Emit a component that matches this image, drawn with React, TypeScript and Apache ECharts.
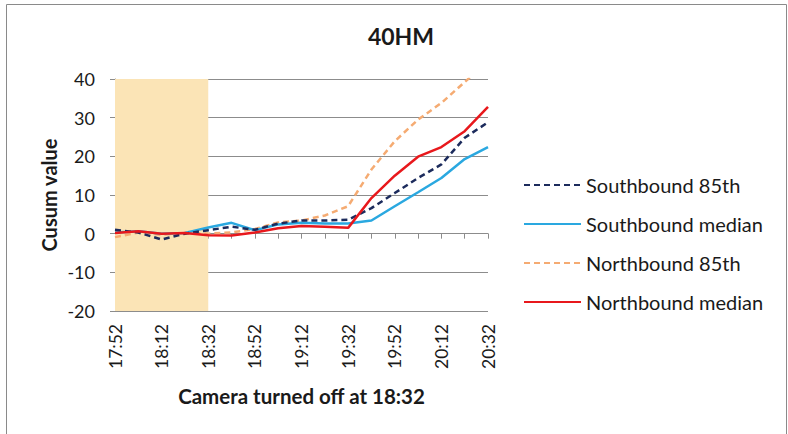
import React, { useEffect, useRef } from "react";
import * as echarts from "echarts";

const categories = [
  "17:52", "18:02", "18:12", "18:22", "18:32", "18:42", "18:52", "19:02", "19:12",
  "19:22", "19:32", "19:42", "19:52", "20:02", "20:12", "20:22", "20:32",
];
const southbound85 = [1.0, 0.3, -1.5, 0.0, 0.9, 1.8, 1.0, 2.6, 3.4, 3.4, 3.6, 6.6, 10.5, 14.4, 17.9, 24.8, 28.8];
const southboundMedian = [0.3, 0.6, 0.0, 0.2, 1.6, 2.8, 0.9, 2.4, 2.8, 2.6, 2.6, 3.4, 7.1, 10.7, 14.4, 19.3, 22.4];
const northbound85 = [-0.9, 0.3, -0.3, 0.2, 0.0, 0.3, 1.2, 2.9, 3.4, 4.7, 7.1, 16.6, 23.9, 29.5, 33.8, 39.2, 44.5];
const northboundMedian = [0.2, 0.6, 0.0, 0.2, -0.4, -0.5, 0.3, 1.4, 2.0, 1.8, 1.5, 9.2, 15.0, 19.9, 22.4, 26.5, 32.8];
const cameraOnStart = "17:52";
const cameraOnEnd = "18:32";

const FONT = "Lato";
const TXT = "#1a1a1a";

export default function App() {
  const ref = useRef<HTMLDivElement>(null);
  useEffect(() => {
    if (!ref.current) return;
    const chart = echarts.init(ref.current, null, { renderer: "svg" });
    const mk = (name: string, data: number[], color: string, dashed: boolean, extra: any = {}) => ({
      name,
      type: "line",
      data,
      symbol: "none",
      clip: true,
      lineStyle: { color, width: 2.5, type: dashed ? [6, 4] : "solid" },
      itemStyle: { color },
      ...extra,
    });
    chart.setOption({
      animation: false,
      backgroundColor: "#ffffff",
      textStyle: { fontFamily: FONT, color: TXT },
      title: {
        text: "40HM",
        left: 396,
        top: 19,
        textAlign: "center",
        textStyle: { fontFamily: FONT, fontSize: 23, fontWeight: "bold", color: TXT },
      },
      graphic: [
        {
          type: "rect",
          shape: { x: 6.5, y: 4.5, width: 780, height: 440 },
          style: { fill: "none", stroke: "#8a8a8a", lineWidth: 1 },
          silent: true,
        },
      ],
      legend: {
        orient: "vertical",
        left: 523,
        top: 175,
        itemWidth: 57,
        itemHeight: 14,
        itemGap: 19,
        padding: 0,
        itemStyle: { opacity: 0 },
        textStyle: { fontFamily: FONT, fontSize: 20, color: TXT },
        data: ["Southbound 85th", "Southbound median", "Northbound 85th", "Northbound median"],
      },
      grid: { left: 115, right: 300, top: 79, bottom: 123, containLabel: false },
      xAxis: {
        type: "category",
        data: categories,
        boundaryGap: false,
        name: "Camera turned off at 18:32",
        nameLocation: "middle",
        nameGap: 74,
        nameTextStyle: { fontFamily: FONT, fontSize: 20.5, fontWeight: "bold", color: TXT },
        axisLine: { lineStyle: { color: "#8c8c8c", width: 1 } },
        axisTick: { show: true, interval: 0, length: 5, lineStyle: { color: "#8c8c8c" } },
        axisLabel: {
          interval: 1,
          rotate: 90,
          margin: 13,
          fontFamily: FONT,
          fontSize: 17.5,
          color: TXT,
        },
        splitLine: { show: false },
      },
      yAxis: {
        type: "value",
        min: -20,
        max: 40,
        interval: 10,
        name: "Cusum value",
        nameLocation: "middle",
        nameGap: 56,
        nameRotate: 90,
        nameTextStyle: { fontFamily: FONT, fontSize: 20, fontWeight: "bold", color: TXT },
        axisLine: { show: true, lineStyle: { color: "#8c8c8c", width: 1 } },
        axisTick: { show: true, length: 5, lineStyle: { color: "#8c8c8c" } },
        axisLabel: { margin: 20, fontFamily: FONT, fontSize: 18, color: TXT },
        splitLine: { show: true, lineStyle: { color: "#8c8c8c", width: 1 } },
      },
      series: [
        mk("Southbound 85th", southbound85, "#1c2b5c", true, {
          z: 4,
          markArea: {
            silent: true,
            itemStyle: { color: "#fbe4b6" },
            data: [[{ xAxis: cameraOnStart }, { xAxis: cameraOnEnd }]],
          },
        }),
        mk("Southbound median", southboundMedian, "#2aa8e0", false, { z: 3 }),
        mk("Northbound 85th", northbound85, "#f5ab72", true, { z: 2 }),
        mk("Northbound median", northboundMedian, "#e8181c", false, { z: 5 }),
      ],
    });
    return () => chart.dispose();
  }, []);
  return (
    <div
      ref={ref}
      style={{ position: "fixed", left: 0, top: 0, width: 788, height: 434, background: "#fff" }}
    />
  );
}
